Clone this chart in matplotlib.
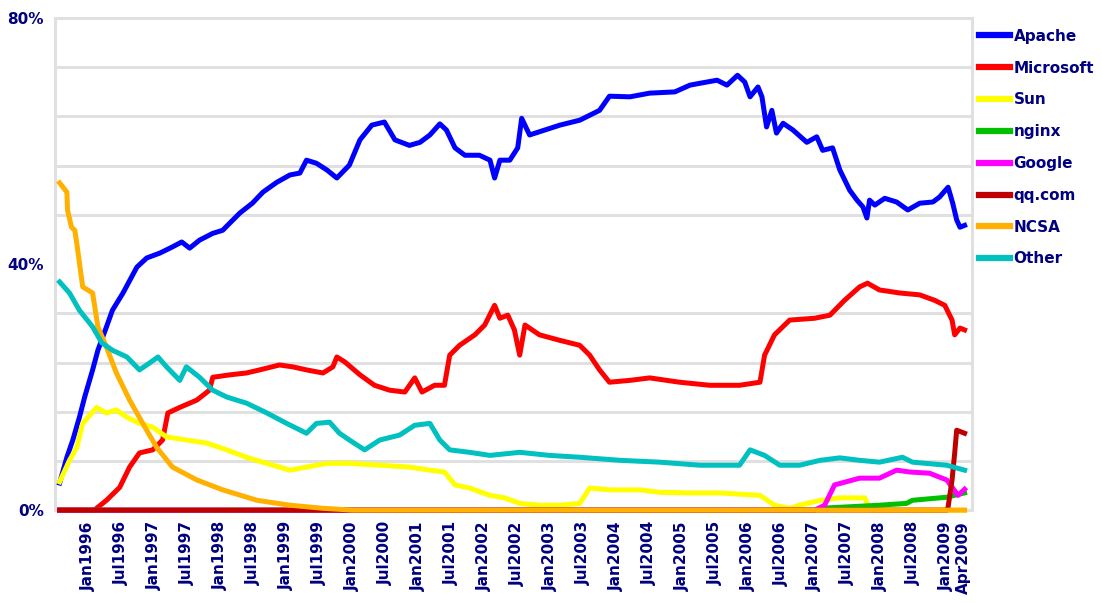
import matplotlib
matplotlib.use('Agg')
import matplotlib.pyplot as plt
import numpy as np

# web server share, percent (x in decimal years)
apache_t = [1995.56, 1995.67, 1995.76, 1995.86, 1995.94, 1996.06, 1996.14, 1996.27, 1996.36, 1996.52,
            1996.73, 1996.88, 1997.08, 1997.27, 1997.41, 1997.53, 1997.68, 1997.88, 1998.03, 1998.29,
            1998.48, 1998.64, 1998.85, 1999.05, 1999.20, 1999.30, 1999.45, 1999.61, 1999.76, 1999.95,
            2000.11, 2000.29, 2000.48, 2000.64, 2000.86, 2001.02, 2001.17, 2001.32, 2001.42, 2001.55,
            2001.70, 2001.92, 2002.08, 2002.15, 2002.23, 2002.38, 2002.50, 2002.56, 2002.68, 2002.91,
            2003.14, 2003.44, 2003.74, 2003.89, 2004.20, 2004.50, 2004.88, 2005.11, 2005.26, 2005.52,
            2005.67, 2005.83, 2005.94, 2006.02, 2006.14, 2006.20, 2006.27, 2006.35, 2006.42, 2006.52,
            2006.67, 2006.88, 2007.03, 2007.12, 2007.27, 2007.38, 2007.53, 2007.64, 2007.73, 2007.79,
            2007.83, 2007.91, 2008.06, 2008.24, 2008.41, 2008.59, 2008.79, 2008.89, 2009.02, 2009.09,
            2009.15, 2009.20, 2009.27]
apache_v = [4.4, 8.6, 11.4, 15.1, 18.4, 22.8, 26.0, 29.8, 32.5, 35.3,
            39.5, 41.0, 41.8, 42.8, 43.6, 42.6, 43.9, 45.0, 45.5, 48.3,
            49.9, 51.7, 53.3, 54.5, 54.8, 56.9, 56.4, 55.3, 54.0, 56.1,
            60.2, 62.6, 63.1, 60.2, 59.3, 59.8, 61.0, 62.8, 61.8, 58.9,
            57.7, 57.7, 56.9, 54.0, 56.9, 56.9, 58.9, 63.7, 61.0, 61.8,
            62.6, 63.4, 65.0, 67.3, 67.2, 67.8, 68.0, 69.1, 69.4, 69.9,
            69.1, 70.7, 69.6, 67.2, 68.8, 67.2, 62.3, 65.0, 61.3, 62.9,
            61.8, 59.8, 60.7, 58.5, 58.9, 55.3, 52.0, 50.4, 49.3, 47.5,
            50.4, 49.6, 50.7, 50.1, 48.8, 49.9, 50.1, 50.9, 52.5, 49.9,
            47.2, 46.0, 46.3]

microsoft_t = [1995.56, 1996.09, 1996.12, 1996.27, 1996.47, 1996.62, 1996.77, 1996.97, 1997.12, 1997.20,
               1997.38, 1997.64, 1997.83, 1997.88, 1998.14, 1998.39, 1998.59, 1998.89, 1999.09, 1999.30,
               1999.55, 1999.70, 1999.76, 1999.88, 2000.11, 2000.33, 2000.56, 2000.79, 2000.94, 2001.05,
               2001.24, 2001.39, 2001.47, 2001.62, 2001.85, 2002.00, 2002.15, 2002.23, 2002.35, 2002.45,
               2002.53, 2002.61, 2002.83, 2003.14, 2003.44, 2003.59, 2003.74, 2003.89, 2004.20, 2004.50,
               2004.95, 2005.41, 2005.86, 2006.17, 2006.24, 2006.39, 2006.62, 2007.00, 2007.23, 2007.45,
               2007.68, 2007.80, 2007.98, 2008.29, 2008.59, 2008.82, 2008.97, 2009.08, 2009.12, 2009.20,
               2009.27]
microsoft_v = [0.0, 0.0, 0.3, 1.6, 3.7, 7.0, 9.3, 9.8, 11.4, 15.8,
               16.7, 17.9, 19.5, 21.6, 22.0, 22.3, 22.8, 23.6, 23.3, 22.8,
               22.3, 23.3, 24.9, 24.1, 22.0, 20.3, 19.5, 19.2, 21.5, 19.2,
               20.3, 20.3, 25.2, 26.8, 28.5, 30.1, 33.3, 31.2, 31.7, 29.3,
               25.2, 30.1, 28.5, 27.6, 26.8, 25.2, 22.8, 20.8, 21.1, 21.5,
               20.8, 20.3, 20.3, 20.8, 25.2, 28.5, 30.9, 31.2, 31.7, 34.1,
               36.3, 36.9, 35.8, 35.3, 35.0, 34.1, 33.3, 30.9, 28.5, 29.6,
               29.3]

sun_t = [1995.56, 1995.71, 1995.82, 1995.91, 1996.12, 1996.27, 1996.42, 1996.58, 1996.77, 1996.97,
         1997.18, 1997.48, 1997.79, 1998.09, 1998.39, 1998.70, 1999.05, 1999.30, 1999.61, 1999.95,
         2000.41, 2000.86, 2001.17, 2001.39, 2001.55, 2001.77, 2002.08, 2002.30, 2002.53, 2002.83,
         2003.14, 2003.44, 2003.59, 2003.89, 2004.35, 2004.65, 2005.11, 2005.56, 2006.17, 2006.39,
         2006.62, 2006.77, 2007.08, 2007.38, 2007.76, 2007.83, 2009.27]
sun_v = [4.6, 8.1, 10.2, 14.1, 16.7, 15.8, 16.3, 15.1, 14.1, 13.5,
         11.9, 11.4, 10.9, 9.8, 8.6, 7.6, 6.5, 7.0, 7.6, 7.6,
         7.3, 7.0, 6.5, 6.2, 4.1, 3.6, 2.4, 2.0, 1.1, 0.8,
         0.8, 1.1, 3.6, 3.3, 3.3, 2.9, 2.8, 2.8, 2.4, 0.8,
         0.3, 0.8, 1.6, 2.0, 2.0, 0.0, 0.0]

nginx_t = [1995.56, 2007.00, 2007.08, 2007.98, 2008.39, 2008.48, 2009.00, 2009.27]
nginx_v = [0.0, 0.0, 0.3, 0.8, 1.1, 1.6, 2.1, 2.8]

google_t = [1995.56, 2007.00, 2007.15, 2007.30, 2007.68, 2007.98, 2008.24, 2008.44, 2008.74, 2009.00,
            2009.09, 2009.17, 2009.27]
google_v = [0.0, 0.0, 0.8, 4.1, 5.2, 5.2, 6.5, 6.2, 6.0, 4.9,
            3.6, 2.4, 3.4]

qq_t = [1995.56, 2009.00, 2009.02, 2009.08, 2009.12, 2009.15, 2009.27]
qq_v = [0.0, 0.0, 0.5, 4.9, 9.3, 13.0, 12.5]

ncsa_t = [1995.56, 1995.67, 1995.68, 1995.74, 1995.79, 1995.82, 1995.86, 1995.91, 1996.06, 1996.14,
          1996.27, 1996.42, 1996.62, 1996.82, 1997.03, 1997.27, 1997.64, 1998.03, 1998.55, 1999.05,
          1999.55, 2000.00, 2009.27]
ncsa_v = [53.2, 51.7, 48.8, 46.0, 45.5, 43.4, 40.2, 36.3, 35.3, 29.8,
          26.5, 22.3, 17.9, 14.1, 10.2, 7.0, 4.9, 3.3, 1.6, 0.8,
          0.3, 0.0, 0.0]

other_t = [1995.56, 1995.71, 1995.86, 1996.06, 1996.20, 1996.36, 1996.58, 1996.77, 1996.92, 1997.05,
           1997.18, 1997.38, 1997.48, 1997.68, 1997.88, 1998.09, 1998.39, 1998.70, 1999.00, 1999.30,
           1999.45, 1999.65, 1999.80, 1999.95, 2000.18, 2000.41, 2000.71, 2000.94, 2001.17, 2001.32,
           2001.47, 2001.77, 2002.08, 2002.53, 2002.98, 2003.44, 2004.05, 2004.65, 2005.26, 2005.86,
           2006.02, 2006.24, 2006.47, 2006.77, 2007.08, 2007.38, 2007.68, 2007.98, 2008.33, 2008.48,
           2009.00, 2009.27]
other_v = [37.1, 35.3, 32.5, 29.8, 27.2, 26.0, 24.9, 22.8, 23.9, 24.9,
           23.3, 21.1, 23.3, 21.6, 19.5, 18.4, 17.4, 15.8, 14.1, 12.5,
           14.1, 14.3, 12.5, 11.4, 9.8, 11.4, 12.2, 13.8, 14.1, 11.4,
           9.8, 9.4, 8.9, 9.4, 8.9, 8.6, 8.1, 7.8, 7.3, 7.3,
           9.8, 8.9, 7.3, 7.3, 8.1, 8.5, 8.1, 7.8, 8.6, 7.8,
           7.3, 6.5]

series = [
    ('Apache', apache_t, apache_v, '#0000ff'),
    ('Microsoft', microsoft_t, microsoft_v, '#ff0000'),
    ('Sun', sun_t, sun_v, '#ffff00'),
    ('nginx', nginx_t, nginx_v, '#00c000'),
    ('Google', google_t, google_v, '#ff00ff'),
    ('qq.com', qq_t, qq_v, '#c00000'),
    ('NCSA', ncsa_t, ncsa_v, '#ffb000'),
    ('Other', other_t, other_v, '#00c0c0'),
]

tick_pos = [1996 + 0.5 * i for i in range(27)] + [2009.25]
tick_labels = [('Jan' if i % 2 == 0 else 'Jul') + str(1996 + i // 2) for i in range(27)] + ['Apr2009']

navy = '#000080'
grey = '#e0e0e0'

fig = plt.figure(figsize=(11.02, 6.03), dpi=100)
ax = fig.add_axes([0.0499, 0.154, 0.832, 0.816])

for name, t, v, c in series:
    ax.plot(t, v, color=c, lw=3.6, label=name, clip_on=False, zorder=3)

ax.set_xlim(1995.49, 2009.38)
ax.set_ylim(0, 80)

ax.set_xticks(tick_pos)
ax.set_xticklabels(tick_labels, rotation=90, fontsize=11, fontweight='bold', color=navy)
ax.set_xticks([1996 + 0.5 * i for i in range(27)], minor=True)
ax.set_yticks([0, 40, 80])
ax.set_yticklabels(['0%', '40%', '80%'], fontsize=11, fontweight='bold', color=navy)
ax.set_yticks(np.arange(0, 81, 8), minor=True)
ax.tick_params(which='both', length=0, pad=8)
ax.grid(which='minor', color=grey, lw=2.2)
ax.set_axisbelow(True)
for s in ax.spines.values():
    s.set_color(grey)
    s.set_linewidth(2.2)
    s.set_zorder(1)

fig.legend(loc='upper left', bbox_to_anchor=(0.876, 0.975), frameon=False,
           handlelength=2.0, handletextpad=0.25, labelspacing=1.1,
           prop={'size': 11, 'weight': 'bold'}, labelcolor=navy)
for h in fig.legends[0].get_lines():
    h.set_linewidth(4.5)

plt.savefig('out.png', dpi=100)
